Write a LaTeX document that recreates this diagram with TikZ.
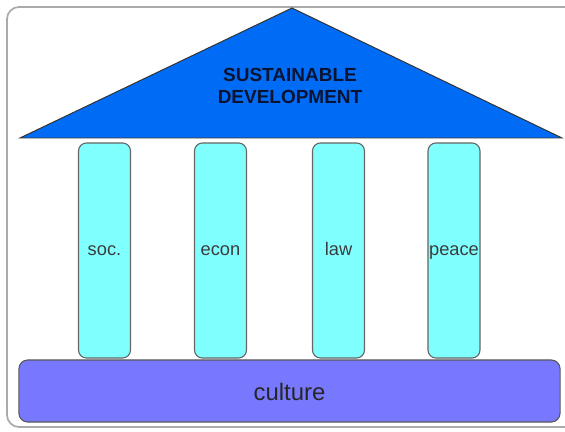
\documentclass[tikz,border=0pt]{standalone}
\usepackage{fontspec}
\setmainfont{Liberation Sans}
\usepackage{tikz}

\definecolor{roofblue}{RGB}{0,108,245}
\definecolor{pillarcyan}{RGB}{128,255,255}
\definecolor{basepurple}{RGB}{120,120,255}
\definecolor{framegray}{RGB}{170,170,170}
\definecolor{textgray}{RGB}{60,60,60}

\begin{document}
\begin{tikzpicture}[x=0.025cm,y=-0.025cm,
  pillar/.style={rectangle,rounded corners=0.2cm,draw=black!60,line width=0.8pt,
    fill=pillarcyan,minimum width=1.3cm,minimum height=5.375cm,inner sep=0pt,
    text height=1.6ex,text depth=0.2ex,
    text=textgray,font=\fontsize{13}{15}\selectfont},
  plinth/.style={rectangle,rounded corners=0.22cm,draw=black!65,line width=0.8pt,
    fill=basepurple,minimum width=13.525cm,minimum height=1.55cm,inner sep=0pt,
    text height=2.6ex,text depth=0ex,
    text=black!85,font=\fontsize{17}{20}\selectfont}]
\useasboundingbox (0,0) rectangle (565,432);
\draw [framegray,line width=1.2pt,rounded corners=0.3cm] (7,7) rectangle (580,427);
\draw [fill=roofblue,draw=black!80,line width=0.7pt] (20,138) -- (292,8) -- (562,138) -- cycle;
\node [align=center,text={rgb,255:red,10;green,20;blue,50},
  font=\bfseries\fontsize{13.5}{16.3}\selectfont] (title) at (290,86)
  {SUSTAINABLE\\DEVELOPMENT};
\node [pillar] (soc) at (104.5,250.5) {soc.};
\node [pillar] (econ) at (220.5,250.5) {econ};
\node [pillar] (law) at (338.5,250.5) {law};
\node [pillar] (peace) at (454,250.5) {peace};
\node [plinth] (culture) at (289.5,391) {culture};
\end{tikzpicture}
\end{document}
